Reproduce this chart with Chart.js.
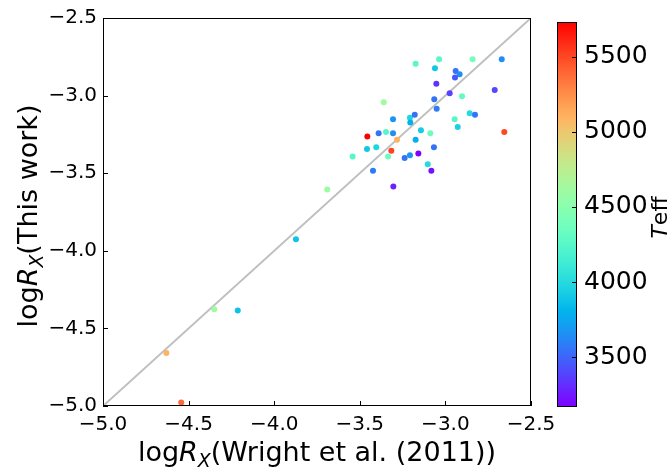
<!DOCTYPE html>
<html><head><meta charset="utf-8">
<script src="https://cdn.jsdelivr.net/npm/chart.js@4.4.0/dist/chart.umd.min.js"></script>
<style>
html,body{margin:0;padding:0;background:#fff;}
#wrap{position:relative;width:672px;height:472px;background:#fff;}
#wrap canvas{position:absolute;left:0;top:0;}
</style></head><body>
<div id="wrap"><canvas id="main" width="672" height="472"></canvas><canvas id="cbar" width="672" height="472"></canvas></div>
<script>
// ---- data ----
const wright = [-3.174,-3.037,-2.841,-2.671,-3.061,-2.940,-2.917,-2.944,-3.053,-2.712,-2.975,-2.903,-3.360,-3.065,-3.051,-3.306,-3.207,-3.179,-3.205,-2.946,-2.858,-2.827,-2.928,-2.656,-3.456,-3.390,-3.347,-3.306,-3.283,-3.143,-3.088,-3.174,-3.458,-3.404,-3.316,-3.542,-3.335,-3.238,-3.207,-3.158,-3.067,-3.103,-3.082,-3.423,-3.304,-3.690,-3.873,-4.350,-4.213,-4.630,-4.543];
const thisWork = [-2.794,-2.765,-2.765,-2.765,-2.823,-2.842,-2.863,-2.884,-2.924,-2.964,-2.985,-3.004,-3.043,-3.023,-3.084,-3.153,-3.142,-3.123,-3.174,-3.153,-3.113,-3.123,-3.203,-3.235,-3.264,-3.243,-3.235,-3.243,-3.285,-3.224,-3.243,-3.285,-3.344,-3.333,-3.355,-3.392,-3.392,-3.402,-3.384,-3.373,-3.333,-3.443,-3.484,-3.484,-3.585,-3.605,-3.925,-4.377,-4.385,-4.658,-4.977];
const teff = [4250,4250,4400,3650,3900,3550,3650,3450,3330,3400,3380,4300,4600,3550,3580,3680,3980,3550,3800,4250,4000,3550,3950,5500,5730,3550,4250,3650,5100,3920,4350,3780,3900,3980,5520,4250,4350,3550,3680,3170,3550,4000,3220,3580,3280,4600,3880,4600,3880,5100,5380];
const axisTicks = [-5.0,-4.5,-4.0,-3.5,-3.0,-2.5];
const cbTicks = [3500,4000,4500,5000,5500];
const teffMin = 3170, teffMax = 5730;
const oneToOne = [-5.0, -2.5];

const FF = '"DejaVu Sans", sans-serif';
function rainbow(t){
  t = Math.max(0, Math.min(1, t));
  const c = v => Math.round(Math.max(0, Math.min(1, v)) * 255);
  const r = Math.abs(2*t - 0.5), g = Math.sin(Math.PI*t), b = Math.cos(Math.PI*t/2);
  return 'rgb(' + c(r) + ',' + c(g) + ',' + c(b) + ')';
}
const fmt = v => (v < 0 ? '\u2212' : '') + Math.abs(v).toFixed(1);

function drawRich(ctx, parts, size){
  let w = 0;
  parts.forEach(p => {
    const s = p.sub ? size*0.7 : size;
    ctx.font = (p.it ? 'italic ' : '') + s + 'px ' + FF;
    p.w = ctx.measureText(p.t).width; p.s = s; w += p.w;
  });
  let x = -w/2;
  parts.forEach(p => {
    ctx.font = (p.it ? 'italic ' : '') + p.s + 'px ' + FF;
    ctx.fillText(p.t, x, p.sub ? size*0.22 : 0);
    x += p.w;
  });
}

const framePlugin = {
  id: 'frame',
  afterDraw(chart){
    const {ctx, chartArea: a, scales} = chart;
    ctx.save();
    ctx.strokeStyle = '#000'; ctx.lineWidth = 1;
    ctx.strokeRect(a.left + 0.5, a.top + 0.5, a.right - a.left - 1, a.bottom - a.top - 1);
    ctx.beginPath();
    axisTicks.forEach(v => {
      const px = Math.round(scales.x.getPixelForValue(v)) + 0.5;
      ctx.moveTo(px, a.bottom); ctx.lineTo(px, a.bottom - 5);
      const py = Math.round(scales.y.getPixelForValue(v)) + 0.5;
      ctx.moveTo(a.left, py); ctx.lineTo(a.left + 5, py);
    });
    ctx.stroke();
    ctx.fillStyle = '#000';
    ctx.textAlign = 'left'; ctx.textBaseline = 'alphabetic';
    ctx.save();
    ctx.translate((a.left + a.right)/2, 461);
    drawRich(ctx, [{t:'log'},{t:'R',it:true},{t:'X',it:true,sub:true},{t:'(Wright et al. (2011))'}], 27);
    ctx.restore();
    ctx.save();
    ctx.translate(37, (a.top + a.bottom)/2 + 4);
    ctx.rotate(-Math.PI/2);
    drawRich(ctx, [{t:'log'},{t:'R',it:true},{t:'X',it:true,sub:true},{t:'(This work)'}], 27);
    ctx.restore();
    ctx.restore();
  }
};

new Chart(document.getElementById('main'), {
  type: 'scatter',
  data: { datasets: [
    { type: 'scatter', data: wright.map((x, i) => ({x: x, y: thisWork[i]})),
      pointRadius: 3, pointHoverRadius: 3, pointBorderWidth: 0,
      pointBackgroundColor: teff.map(t => rainbow((t - teffMin)/(teffMax - teffMin))), order: 0 },
    { type: 'line', data: oneToOne.map(v => ({x: v, y: v})), borderColor: '#bfbfbf',
      borderWidth: 2, pointRadius: 0, fill: false, order: 1 }
  ]},
  options: {
    responsive: false, animation: false, devicePixelRatio: 1,
    layout: {padding: {left: 0, top: 9, right: 141, bottom: 0}},
    plugins: {legend: {display: false}, tooltip: {enabled: false}},
    scales: {
      x: { type: 'linear', min: -5, max: -2.5,
        afterBuildTicks: s => { s.ticks = axisTicks.map(v => ({value: v})); },
        afterFit: s => { s.height = 66; },
        grid: {display: false, drawTicks: false}, border: {display: false},
        ticks: {callback: fmt, font: {family: FF, size: 20}, color: '#000', padding: 7, maxRotation: 0, autoSkip: false} },
      y: { type: 'linear', min: -5, max: -2.5,
        afterBuildTicks: s => { s.ticks = axisTicks.map(v => ({value: v})); },
        afterFit: s => { s.width = 103; },
        grid: {display: false, drawTicks: false}, border: {display: false},
        ticks: {callback: fmt, font: {family: FF, size: 20}, color: '#000', padding: 6, autoSkip: false} }
    }
  },
  plugins: [framePlugin]
});

const cbPlugin = {
  id: 'cbframe',
  afterDraw(chart){
    const {ctx, chartArea: a, scales} = chart;
    ctx.save();
    ctx.strokeStyle = '#000'; ctx.lineWidth = 1;
    ctx.strokeRect(a.left + 0.5, a.top + 0.5, a.right - a.left - 1, a.bottom - a.top - 1);
    ctx.beginPath();
    cbTicks.forEach(v => {
      const py = Math.round(scales.y.getPixelForValue(v)) + 0.5;
      ctx.moveTo(a.right, py); ctx.lineTo(a.right - 5, py);
    });
    ctx.stroke();
    ctx.fillStyle = '#000';
    ctx.textBaseline = 'alphabetic';
    ctx.translate(667, (a.top + a.bottom)/2 + 3);
    ctx.rotate(-Math.PI/2);
    drawRich(ctx, [{t:'T',it:true},{t:'eff'}], 22);
    ctx.restore();
  }
};

new Chart(document.getElementById('cbar'), {
  type: 'bar',
  data: { labels: ['Teff'], datasets: [{
    data: [[teffMin, teffMax]], borderWidth: 0, barPercentage: 1, categoryPercentage: 1,
    backgroundColor: function(context){
      const chart = context.chart; const a = chart.chartArea;
      if (!a) return '#888';
      const y = chart.scales.y;
      const g = chart.ctx.createLinearGradient(0, y.getPixelForValue(teffMin), 0, y.getPixelForValue(teffMax));
      for (let i = 0; i <= 32; i++) g.addColorStop(i/32, rainbow(i/32));
      return g;
    }
  }]},
  options: {
    responsive: false, animation: false, devicePixelRatio: 1,
    layout: {padding: {left: 557, top: 9, right: 0, bottom: 65}},
    plugins: {legend: {display: false}, tooltip: {enabled: false}},
    scales: {
      x: {display: false},
      y: { position: 'right', min: teffMin, max: teffMax,
        afterBuildTicks: s => { s.ticks = cbTicks.map(v => ({value: v})); },
        afterFit: s => { s.width = 95; },
        grid: {display: false, drawTicks: false}, border: {display: false},
        ticks: {font: {family: FF, size: 25}, color: '#000', padding: 7, autoSkip: false, callback: v => String(v)} }
    }
  },
  plugins: [cbPlugin]
});
</script>
</body></html>
